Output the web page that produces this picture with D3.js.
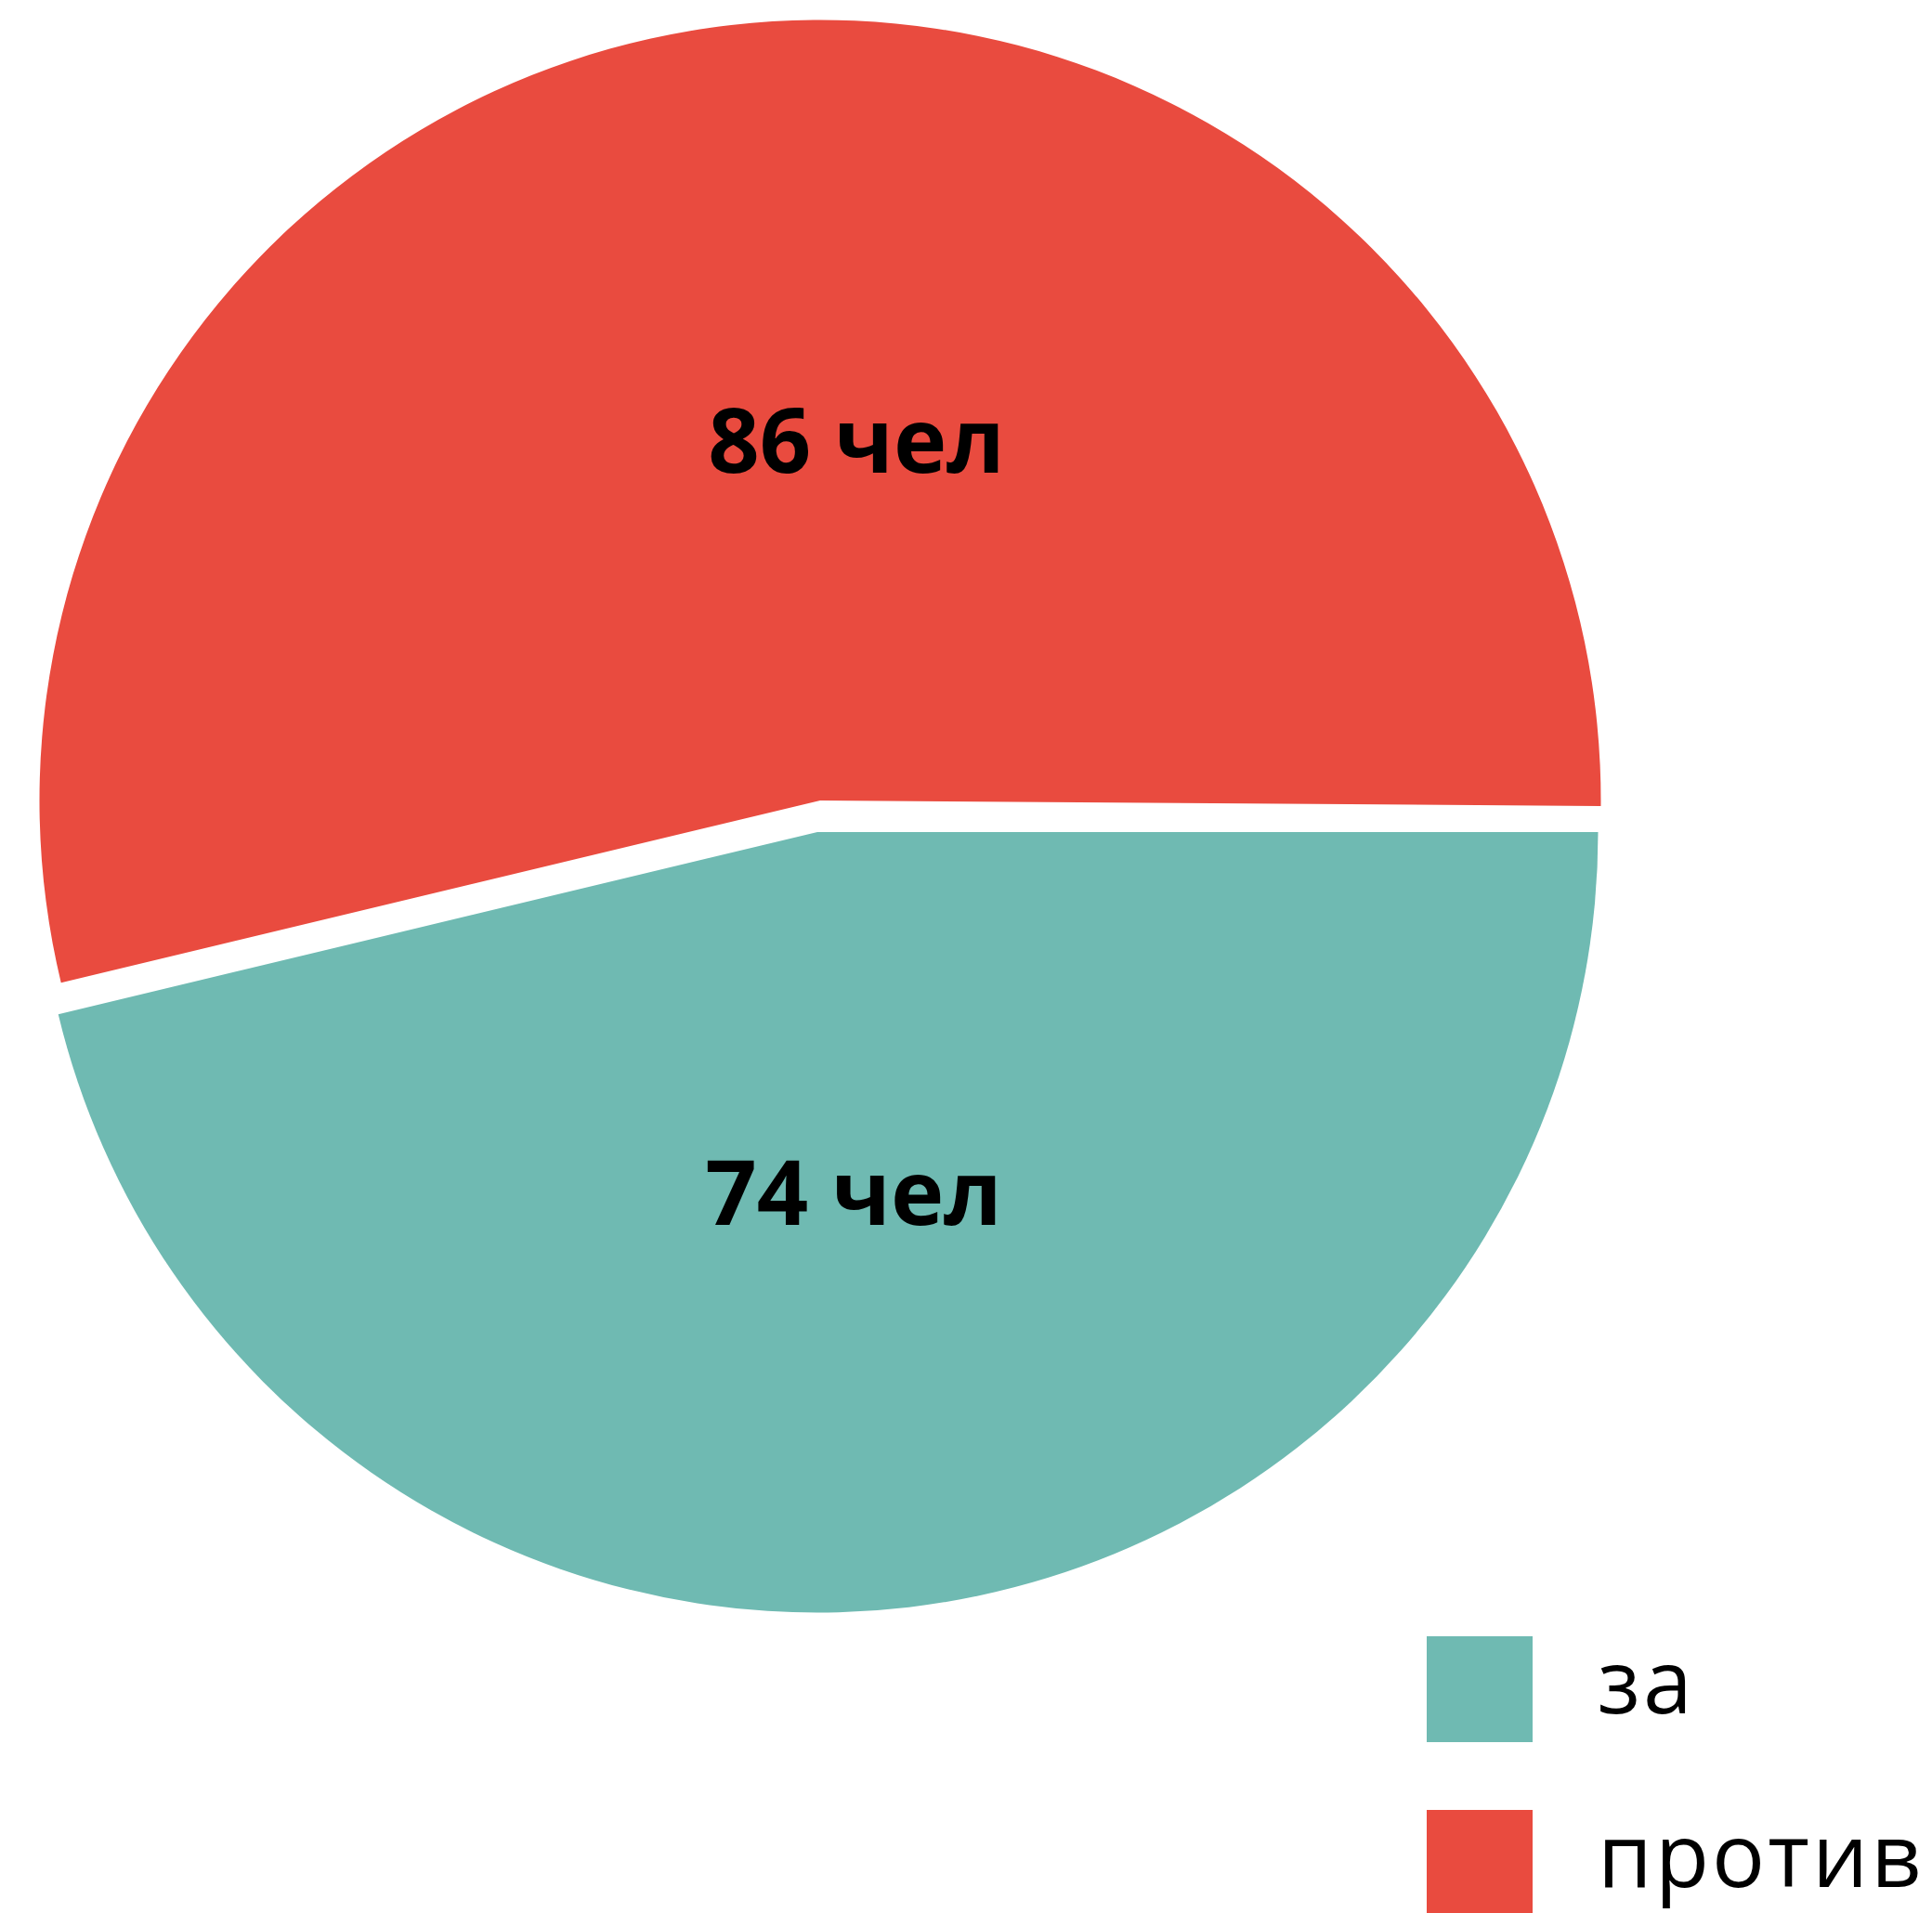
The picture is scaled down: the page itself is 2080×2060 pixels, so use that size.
<!DOCTYPE html>
<html lang="ru">
<head>
    <meta charset="UTF-8">
    <title>За / против</title>
    <script src="https://d3js.org/d3.v7.min.js"></script>
    <style>
        body { margin: 0; background: #fff; }
        svg { display: block; }
    </style>
</head>
<body>
    <div id="chart"></div>
    <script>
        // data
        const categories = ["за", "против"];
        const values = [74, 86];
        const labels = ["74 чел", "86 чел"];
        const colors = ["#6FBAB2", "#E94B3F"];

        const w = 2080;
        const h = 2060;
        const cx = 881.5;
        const cy = 879;
        const radius = 840.5;
        // each slice is pulled apart a little
        const shift = [[-1.5, 17], [1.5, -17]];
        // the last slice runs slightly past its end in the original
        const overrun = [0, 0.007];
        const labelDx = 39;
        const labelDist = 388;

        const svg = d3.select('#chart')
            .append('svg')
            .attr("width", w)
            .attr("height", h);

        const pie = d3.pie()
            .sort(null)
            .startAngle(Math.PI / 2)
            .endAngle(Math.PI / 2 + 2 * Math.PI);

        const arc = d3.arc()
            .innerRadius(0)
            .outerRadius(radius);

        const arcs = pie(values);

        const slices = svg.selectAll('g.slice')
            .data(arcs)
            .enter()
            .append('g')
            .attr("class", "slice")
            .attr("transform", (d, i) => "translate(" + (cx + shift[i][0]) + "," + (cy + shift[i][1]) + ")");

        slices.append('path')
            .attr("d", (d, i) => arc({ startAngle: d.startAngle, endAngle: d.endAngle + overrun[i] }))
            .attr("fill", (d, i) => colors[i]);

        slices.append('text')
            .attr("x", labelDx)
            .attr("y", d => arc.centroid(d)[1] > 0 ? labelDist : -labelDist)
            .attr("dy", "0.36em")
            .attr("text-anchor", "middle")
            .attr("font-family", "'Open Sans', sans-serif")
            .attr("font-weight", 700)
            .attr("font-size", 97)
            .attr("fill", "#000")
            .text((d, i) => labels[i]);

        // legend
        const legY = d3.scaleBand()
            .domain(categories)
            .range([1762, 1762 + 187 * 2]);

        const leg = svg.selectAll('g.legend')
            .data(categories)
            .enter()
            .append('g')
            .attr("class", "legend")
            .attr("transform", d => "translate(1536," + legY(d) + ")");

        leg.append('rect')
            .attr("width", 114)
            .attr("height", 114)
            .attr("fill", (d, i) => colors[i]);

        leg.append('text')
            .attr("x", 184)
            .attr("y", 57)
            .attr("dy", "0.27em")
            .attr("font-family", "'Open Sans', sans-serif")
            .attr("font-weight", 400)
            .attr("font-size", 95)
            .attr("letter-spacing", 3)
            .attr("fill", "#000")
            .text(d => d);
    </script>
</body>
</html>
